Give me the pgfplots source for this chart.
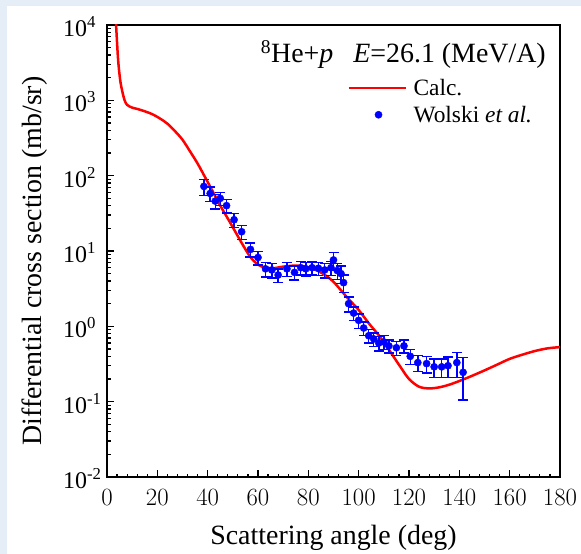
\documentclass[border=0pt]{standalone}
\usepackage{fontspec}
\setmainfont{Liberation Serif}
\usepackage{pgfplots}
\pgfplotsset{compat=1.18}
\usepackage{pgfplotstable}
\definecolor{framebg}{RGB}{229,238,247}

\pgfplotstableread{
x y
3.0 20000
3.6 10000
4.4 3500
5.2 1900
6.0 1350
7.0 1000
8.0 870
10 800
12 770
15 715
18 655
21 575
24 490
27 390
30 300
33 210
36 145
39 95
42 62
45 40
48 27
51 18
54 12
57 8.3
60 6.6
63 6.0
66 5.9
70 6.2
75 6.4
80 6.1
84 5.4
87 4.7
90 3.9
93 3.0
96 2.3
100 1.65
104 1.1
108 0.76
112 0.49
116 0.31
120 0.20
124 0.158
128 0.150
132 0.155
136 0.168
140 0.188
145 0.22
150 0.26
155 0.31
160 0.37
165 0.42
170 0.47
175 0.51
180 0.53
}\calc

\pgfplotstableread{
x y e
38.5 72 17
41 58 13
43 46 10
45 50 10
47.5 40 8
50.5 26 5.5
53.5 18 3.8
57 10.5 2.2
60 8.2 1.7
63 5.8 1.3
65.5 5.6 1.2
68 4.8 1.0
71.5 5.8 1.2
74.5 5.2 1.1
77 6.0 1.2
79 5.8 1.2
81.5 6.0 1.2
84 5.9 1.2
86.5 5.6 1.2
89 6.0 1.3
90 7.6 2.0
91.5 5.5 1.3
93 5.0 1.3
94 3.8 1.0
96 2.0 0.45
98 1.5 0.3
100 1.2 0.26
102 0.95 0.19
104 0.75 0.15
106 0.68 0.14
108 0.60 0.13
110 0.62 0.13
112 0.55 0.11
115 0.52 0.11
118 0.55 0.11
120.5 0.40 0.09
123.5 0.33 0.08
127 0.32 0.08
130 0.29 0.08
133 0.29 0.08
135.5 0.30 0.09
139 0.33 0.12
141.5 0.245 0.14
}\wolski

\begin{document}
\begin{tikzpicture}
\fill[framebg] (0,0) rectangle (581bp,554bp);
\fill[white] (7bp,0) rectangle (581bp,548bp);
\path[use as bounding box] (0,0) rectangle (581bp,554bp);
\begin{axis}[
  at={(107bp,77bp)}, anchor=south west,
  scale only axis, width=453bp, height=452bp,
  xmin=0, xmax=180, ymin=1e-2, ymax=1e4, ymode=log,
  xtick={0,20,...,180}, minor x tick num=4,
  ytick={1e-2,1e-1,1,10,100,1000,1e4},
  yticklabels={10\textsuperscript{-2},10\textsuperscript{-1},10\textsuperscript{0},10\textsuperscript{1},10\textsuperscript{2},10\textsuperscript{3},10\textsuperscript{4}},
  xtick pos=left, ytick pos=left, tick align=inside,
  major tick length=7bp, minor tick length=3.5bp,
  every tick/.style={black, line width=1.2bp},
  axis line style={line width=1.6bp},
  tick label style={font=\fontsize{24}{28}\selectfont},
  xticklabel style={anchor=base, yshift=-28bp},
  yticklabel style={anchor=base west, inner sep=0pt, xshift=-44bp, yshift=-11.5bp},
  xlabel={Scattering angle (deg)},
  xlabel style={font=\fontsize{28}{32}\selectfont, at={(axis description cs:0.5,-0.1504)}, anchor=base},
  ylabel={Differential cross section (mb/sr)},
  ylabel style={font=\fontsize{28}{32}\selectfont, at={(axis description cs:-0.1435,0.478)}, anchor=base, rotate=0},
  legend style={at={(rel axis cs:0.53,0.885)}, anchor=north west, draw=none, fill=none,
    font=\fontsize{23.5}{26}\selectfont, inner sep=0pt, row sep=5bp},
  legend cell align=left,
]
\addplot[red, line width=2.5bp, smooth,
  legend image code/.code={\path[draw=none,fill=none] (0bp,-4bp) rectangle (63bp,4bp);\draw[red, line width=2.5bp] (0bp,0bp) -- (57bp,0bp);}]
  table[x=x,y=y] {\calc};
\addlegendentry{Calc.}
\addplot[blue, only marks, mark=*, mark size=3.6bp,
  legend image code/.code={\path[draw=none,fill=none] (0bp,-4bp) rectangle (63bp,4bp);\fill[blue] (30bp,0bp) circle (3.6bp);},
  error bars/.cd, y dir=both, y explicit,
  error bar style={line width=1.4bp, blue},
  error mark options={rotate=90, mark size=5bp, line width=1.4bp, blue}]
  table[x=x,y=y,y error=e] {\wolski};
\addlegendentry{Wolski \textit{et al.}}
\node[anchor=base east, font=\fontsize{28}{32}\selectfont, inner sep=0pt] at (rel axis cs:0.969,0.918)
  {\textsuperscript{8}He+\textit{p}\hspace{20bp}\textit{E}=26.1 (MeV/A)};
\end{axis}
\end{tikzpicture}
\end{document}
